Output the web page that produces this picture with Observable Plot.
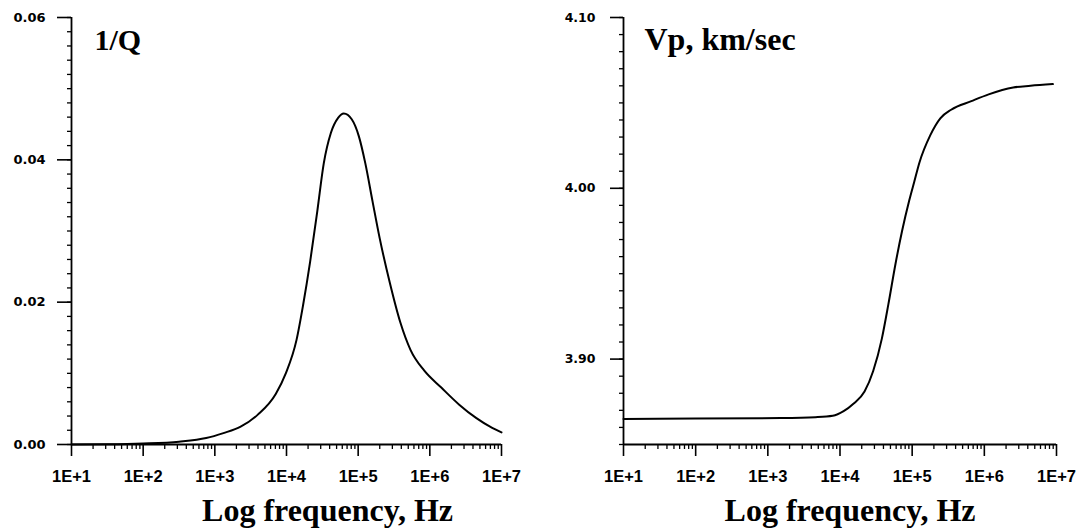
<!DOCTYPE html>
<html>
<head>
<meta charset="utf-8">
<script src="https://cdn.jsdelivr.net/npm/d3@7"></script>
<script src="https://cdn.jsdelivr.net/npm/@observablehq/plot@0.6"></script>
<style>
  html, body { margin: 0; padding: 0; background: #fff; }
  #wrap { display: flex; width: 1081px; height: 531px; }
  svg { display: block; }
  g[aria-label="x-axis tick label"] { font-size: 16.5px !important; font-weight: bold !important; font-family: 'Liberation Sans', Arial, sans-serif !important; }
  #left g[aria-label="y-axis tick label"] { font-size: 13px !important; font-weight: bold !important; font-family: 'DejaVu Sans', sans-serif !important; }
  #right g[aria-label="y-axis tick label"] { font-size: 12.5px !important; font-weight: bold !important; font-family: 'DejaVu Sans', sans-serif !important; }
</style>
</head>
<body>
<div id="wrap"></div>
<script>
// ---- data ----
// Left panel: attenuation 1/Q vs log10 frequency
const qLogF = [1.0, 1.5, 2.0, 2.5, 2.88, 3.12, 3.36, 3.6, 3.85, 3.99, 4.14, 4.23, 4.33, 4.43, 4.52, 4.62, 4.72, 4.80, 4.91, 5.01, 5.10, 5.20, 5.30, 5.44, 5.59, 5.73, 5.92, 6.16, 6.41, 6.65, 6.84, 7.0];
const qVal  = [0.0000, 0.00003, 0.00014, 0.0004, 0.0009, 0.0016, 0.0025, 0.0042, 0.0071, 0.0100, 0.0147, 0.0195, 0.0257, 0.0328, 0.0395, 0.0438, 0.0459, 0.0465, 0.0457, 0.0433, 0.0395, 0.0342, 0.0290, 0.0228, 0.0171, 0.0133, 0.0104, 0.0080, 0.0056, 0.0037, 0.0025, 0.0017];

// Right panel: Vp (km/sec) vs log10 frequency
const vLogF = [1.0, 2.0, 3.18, 3.66, 3.90, 4.05, 4.19, 4.34, 4.46, 4.58, 4.67, 4.77, 4.86, 4.96, 5.03, 5.10, 5.25, 5.39, 5.54, 5.82, 6.06, 6.40, 6.64, 6.95];
const vVal  = [3.865, 3.8652, 3.8655, 3.8660, 3.8668, 3.8695, 3.874, 3.881, 3.893, 3.912, 3.932, 3.956, 3.975, 3.993, 4.004, 4.015, 4.031, 4.041, 4.046, 4.051, 4.055, 4.059, 4.060, 4.061];

// tick definitions
const decadeExps = [1, 2, 3, 4, 5, 6, 7];
const qMajorTicks = [0, 0.02, 0.04, 0.06];
const vMajorTicks = [3.90, 4.00, 4.10];
const qDomain = [0, 0.06];
const vDomain = [3.85, 4.10];
const xDomain = [10, 1e7];

const titles = { q: "1/Q", v: "Vp, km/sec" };
const xLabel = "Log frequency, Hz";

// ---- derived ----
const qData = qLogF.map((l, i) => ({f: Math.pow(10, l), v: qVal[i]}));
const vData = vLogF.map((l, i) => ({f: Math.pow(10, l), v: vVal[i]}));
const decades = decadeExps.map(e => Math.pow(10, e));
const minorX = [];
for (const e of decadeExps.slice(0, -1)) for (let m = 2; m <= 9; m++) minorX.push(m * Math.pow(10, e));
const qMinor = d3.range(0, 61, 2).map(d => d / 1000);
const vMinor = d3.range(385, 411, 1).map(d => d / 100);

const serif = "'Liberation Serif', 'Times New Roman', serif";

function panel({width, ml, mr, data, yDomain, majorY, minorY, yFmt, yTickSize, yPad, title, titleSize, titleDx, titleDy, labelDx}) {
  return Plot.plot({
    width, height: 531,
    marginLeft: ml, marginRight: mr, marginTop: 17, marginBottom: 87,
    style: {background: "#fff", color: "#000", overflow: "visible"},
    x: {type: "log", domain: xDomain},
    y: {domain: yDomain},
    marks: [
      Plot.axisY({ticks: minorY, tickSize: 4, tickFormat: () => "", label: null, strokeWidth: 1.3}),
      Plot.axisY({ticks: majorY, tickSize: yTickSize, tickPadding: yPad, tickFormat: yFmt, label: null, strokeWidth: 1.6}),
      Plot.axisX({ticks: minorX, tickSize: 5, tickFormat: () => "", label: null, strokeWidth: 1.3}),
      Plot.axisX({ticks: decades, tickSize: 12, tickPadding: 14, label: null,
                  tickFormat: d => "1E+" + Math.round(Math.log10(d)), strokeWidth: 1.6}),
      Plot.ruleX([xDomain[0]], {stroke: "#000", strokeWidth: 1.8}),
      Plot.ruleY([yDomain[0]], {stroke: "#000", strokeWidth: 1.8}),
      Plot.line(data, {x: "f", y: "v", stroke: "#000", strokeWidth: 2, curve: "monotone-x"}),
      Plot.text([title], {frameAnchor: "top-left", textAnchor: "start", lineAnchor: "middle",
                          dx: titleDx, dy: titleDy, fontSize: titleSize, fontWeight: "bold", fontFamily: serif, fill: "#000"}),
      Plot.text([xLabel], {frameAnchor: "bottom", textAnchor: "middle", lineAnchor: "middle",
                           dx: labelDx, dy: 66, fontSize: 32, fontWeight: "bold", fontFamily: serif, fill: "#000"})
    ]
  });
}

const left = panel({
  width: 540, ml: 71, mr: 39, data: qData, yDomain: qDomain,
  majorY: qMajorTicks, minorY: qMinor, yFmt: d3.format(".2f"),
  yTickSize: 14, yPad: 12, title: titles.q, titleSize: 30, titleDx: 23, titleDy: 23, labelDx: 41
});
left.id = "left";
const right = panel({
  width: 541, ml: 83, mr: 25, data: vData, yDomain: vDomain,
  majorY: vMajorTicks, minorY: vMinor, yFmt: d3.format(".2f"),
  yTickSize: 13, yPad: 15, title: titles.v, titleSize: 32, titleDx: 21, titleDy: 22, labelDx: 10
});
right.id = "right";
document.getElementById("wrap").append(left, right);
</script>
</body>
</html>
